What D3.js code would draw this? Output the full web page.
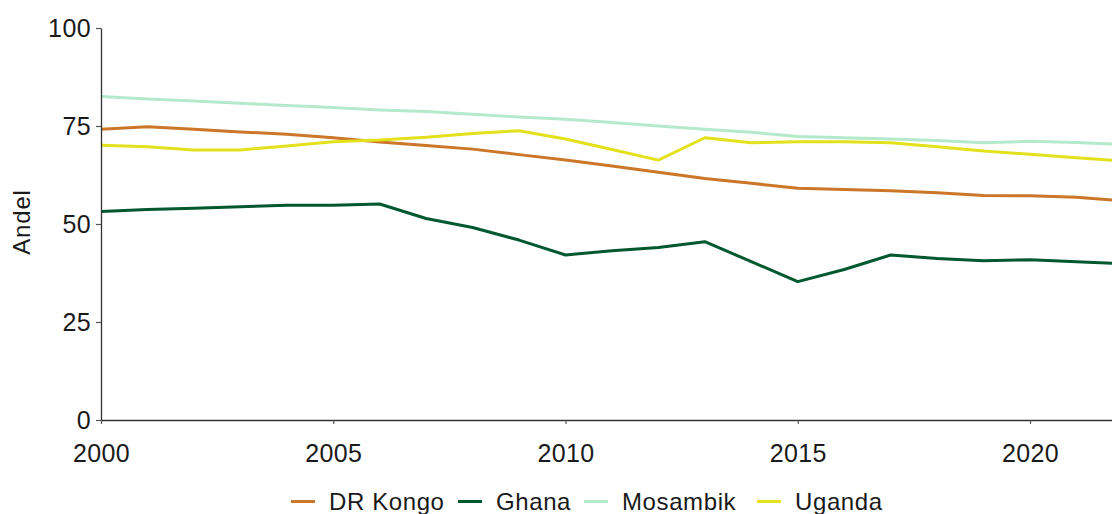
<!DOCTYPE html>
<html>
<head>
<meta charset="utf-8">
<script src="https://cdn.jsdelivr.net/npm/d3@7"></script>
<style>
  html, body { margin: 0; padding: 0; background: #fff; }
  svg { display: block; }
  text { font-family: "Liberation Sans", Arial, sans-serif; fill: #1a1a1a; }
</style>
</head>
<body>
<svg id="chart" width="1112" height="514"></svg>
<script>
const years = [2000,2001,2002,2003,2004,2005,2006,2007,2008,2009,2010,2011,2012,2013,2014,2015,2016,2017,2018,2019,2020,2021,2022];
const drKongo  = [74.2,74.8,74.2,73.5,72.9,72.0,70.9,70.0,69.1,67.7,66.3,64.8,63.2,61.6,60.4,59.1,58.8,58.5,58.0,57.3,57.2,56.8,55.9];
const ghana    = [53.2,53.7,54.0,54.4,54.8,54.8,55.1,51.4,49.1,45.9,42.1,43.2,44.0,45.5,40.4,35.3,38.4,42.1,41.2,40.6,40.9,40.4,39.9];
const mosambik = [82.5,81.9,81.4,80.8,80.2,79.7,79.1,78.7,78.0,77.3,76.7,75.9,75.0,74.2,73.4,72.3,72.0,71.7,71.3,70.7,71.1,70.8,70.3];
const uganda   = [70.1,69.7,68.9,68.9,69.9,71.0,71.4,72.1,73.1,73.8,71.7,69.0,66.3,72.0,70.7,71.0,71.0,70.7,69.7,68.6,67.8,66.9,66.1];
const seriesNames = ["DR Kongo","Ghana","Mosambik","Uganda"];
const seriesColors = ["#CB7629","#00582F","#B4EACB","#E2E11C"];
const xTicks = [2000,2005,2010,2015,2020];
const yTicks = [0,25,50,75,100];
const yLabel = "Andel";

const seriesValues = [drKongo, ghana, mosambik, uganda];
const svg = d3.select("#chart");

const x0 = 101, xPerYear = (1030 - 101) / 20;
const x = d3.scaleLinear().domain([2000, 2022]).range([x0, x0 + 22 * xPerYear]);
const y = d3.scaleLinear().domain([0, 100]).range([420, 28]);

const fontSize = "24px";
const tickFontSize = "25px";

// Lines
const line = d3.line().x((d, i) => x(years[i])).y(d => y(d));
seriesValues.forEach((vals, k) => {
  svg.append("path")
    .datum(vals)
    .attr("fill", "none")
    .attr("stroke", seriesColors[k])
    .attr("stroke-width", 3)
    .attr("stroke-linejoin", "round")
    .attr("d", line);
});

// Axes
const xAxis = svg.append("g").attr("transform", "translate(0,420)")
  .call(d3.axisBottom(x).tickValues(xTicks).tickFormat(d3.format("d")).tickSizeInner(4).tickSizeOuter(0).tickPadding(20));
const yAxis = svg.append("g").attr("transform", `translate(${x0},0)`)
  .call(d3.axisLeft(y).tickValues(yTicks).tickSizeInner(5).tickSizeOuter(0).tickPadding(5));

[xAxis, yAxis].forEach(g => {
  g.select(".domain").attr("stroke", "#333").attr("stroke-width", 1.3);
  g.selectAll(".tick line").attr("stroke", "#555").attr("stroke-width", 1.2);
  g.selectAll(".tick text")
    .style("font-family", '"Liberation Sans", Arial, sans-serif')
    .style("font-size", tickFontSize)
    .style("letter-spacing", "0.4px")
    .attr("fill", "#1a1a1a");
});

// Y label
svg.append("text")
  .attr("transform", "translate(30,222) rotate(-90)")
  .attr("text-anchor", "middle")
  .style("font-size", fontSize)
  .style("letter-spacing", "0.8px")
  .text(yLabel);

// Legend
const legendX = [291, 458, 584, 757];
const legend = svg.append("g");
seriesNames.forEach((name, k) => {
  legend.append("line")
    .attr("x1", legendX[k]).attr("x2", legendX[k] + 24)
    .attr("y1", 501.5).attr("y2", 501.5)
    .attr("stroke", seriesColors[k]).attr("stroke-width", 3);
  legend.append("text")
    .attr("x", legendX[k] + 38).attr("y", 510)
    .style("font-size", fontSize)
    .style("letter-spacing", "0.6px")
    .text(name);
});
</script>
</body>
</html>
